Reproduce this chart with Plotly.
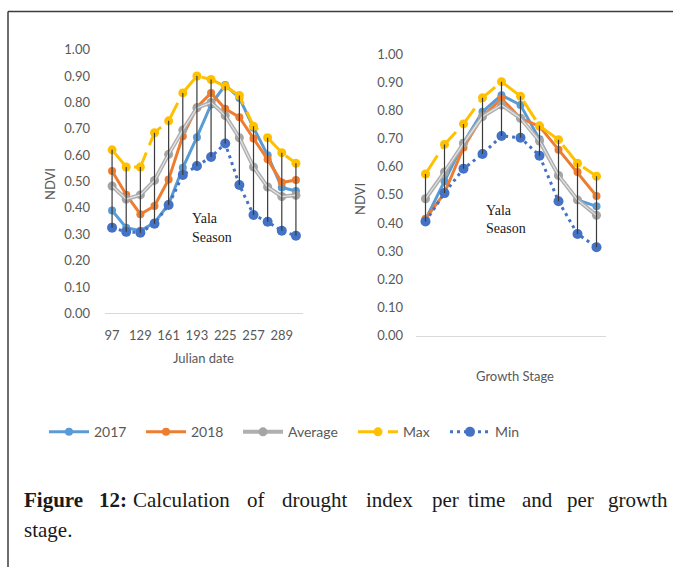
import plotly.graph_objects as go

W, H = 673, 575

# ---------------- data ----------------
julian_days = ["97", "113", "129", "145", "161", "177", "193", "209", "225", "241", "257", "273", "289", "305"]
julian_ticks = ["97", "129", "161", "193", "225", "257", "289"]

jd_2017 = [0.39, 0.325, 0.313, 0.344, 0.414, 0.552, 0.668, 0.792, 0.866, 0.817, 0.704, 0.600, 0.477, 0.464]
jd_2018 = [0.54, 0.450, 0.376, 0.407, 0.508, 0.672, 0.782, 0.836, 0.776, 0.744, 0.663, 0.584, 0.496, 0.506]
jd_avg = [0.483, 0.433, 0.449, 0.504, 0.603, 0.695, 0.779, 0.800, 0.750, 0.666, 0.555, 0.479, 0.443, 0.448]
jd_max = [0.620, 0.555, 0.555, 0.685, 0.730, 0.836, 0.900, 0.887, 0.861, 0.826, 0.710, 0.666, 0.609, 0.569]
jd_min = [0.325, 0.309, 0.306, 0.340, 0.411, 0.525, 0.559, 0.593, 0.644, 0.487, 0.373, 0.347, 0.313, 0.294]

stages = ["1", "2", "3", "4", "5", "6", "7", "8", "9", "10"]
gs_2017 = [0.412, 0.548, 0.685, 0.795, 0.854, 0.819, 0.697, 0.569, 0.482, 0.459]
gs_2018 = [0.415, 0.506, 0.668, 0.778, 0.842, 0.772, 0.743, 0.660, 0.581, 0.496]
gs_avg = [0.486, 0.581, 0.683, 0.778, 0.819, 0.772, 0.691, 0.569, 0.482, 0.427]
gs_max = [0.574, 0.679, 0.752, 0.845, 0.902, 0.850, 0.745, 0.696, 0.612, 0.566]
gs_min = [0.405, 0.506, 0.593, 0.645, 0.709, 0.703, 0.639, 0.477, 0.361, 0.314]

y_ticks = [0.0, 0.1, 0.2, 0.3, 0.4, 0.5, 0.6, 0.7, 0.8, 0.9, 1.0]

series_names = ["2017", "2018", "Average", "Max", "Min"]
colors = {"2017": "#5B9BD5", "2018": "#ED7D31", "Average": "#A5A5A5", "Max": "#FFC000", "Min": "#4472C4"}

TICK_FONT = dict(family="Lato, Open Sans, sans-serif", size=13, color="#595959")


def px_x(p):
    return p / W


def px_y(p):
    # target pixel row in the photographed page -> paper fraction
    p = (p - 6.5) / 0.975
    return 1 - p / H


fig = go.Figure()


def add_panel(cats, s2017, s2018, savg, smax, smin, xa, ya, show_legend):
    data = {"2017": s2017, "2018": s2018, "Average": savg, "Max": smax, "Min": smin}
    legend_ids = {"2017": "legend", "2018": "legend2", "Average": "legend3", "Max": "legend4", "Min": "legend5"}
    for name in series_names:
        vals = data[name]
        line = dict(color=colors[name], width=3)
        marker = dict(color=colors[name], size=8, symbol="circle")
        if name == "Average":
            line = dict(color="#AFAFAF", width=4)
            marker = dict(color="#A5A5A5", size=9)
        if name == "Max":
            line = dict(color=colors[name], width=3, dash="22px,8px")
            marker = dict(color=colors[name], size=9)
        if name == "Min":
            line = dict(color=colors[name], width=3, dash="3px,4px")
            marker = dict(color=colors[name], size=10)
        fig.add_trace(go.Scatter(
            x=cats, y=vals, name=name, mode="lines+markers",
            line=line, marker=marker, xaxis=xa, yaxis=ya,
            showlegend=show_legend, legend=legend_ids[name],
        ))
        if name == "Average":
            # light inner stroke of the compound gray line
            fig.add_trace(go.Scatter(
                x=cats, y=vals, mode="lines", line=dict(color="#E4E4E4", width=1.2),
                xaxis=xa, yaxis=ya, showlegend=False, hoverinfo="skip",
            ))
    # high-low lines
    hx, hy = [], []
    for c, lo, hi in zip(cats, smin, smax):
        hx += [c, c, None]
        hy += [lo, hi, None]
    fig.add_trace(go.Scatter(
        x=hx, y=hy, mode="lines", line=dict(color="#3A3A3A", width=1.2),
        xaxis=xa, yaxis=ya, showlegend=False, hoverinfo="skip",
    ))


add_panel(julian_days, jd_2017, jd_2018, jd_avg, jd_max, jd_min, "x", "y", True)
add_panel(stages, gs_2017, gs_2018, gs_avg, gs_max, gs_min, "x2", "y2", False)

axis_common_y = dict(range=[0, 1], tickvals=y_ticks, tickformat=".2f", showgrid=False,
                     zeroline=False, showline=False, ticks="", tickfont=TICK_FONT)

fig.update_layout(
    width=W, height=H,
    margin=dict(l=0, r=0, t=0, b=0),
    paper_bgcolor="white", plot_bgcolor="white",
    xaxis=dict(domain=[px_x(105), px_x(303)], type="category", categoryorder="array",
               categoryarray=julian_days, range=[-0.5, len(julian_days) - 0.5],
               tickvals=julian_ticks, showgrid=False, zeroline=False, showline=True,
               linecolor="#D9D9D9", linewidth=1, ticks="", tickfont=TICK_FONT,
               ticklabelstandoff=10, anchor="y"),
    yaxis=dict(domain=[px_y(312.7), px_y(48.3)], anchor="x", ticklabelstandoff=14, **axis_common_y),
    xaxis2=dict(domain=[px_x(416), px_x(606)], type="category", categoryorder="array",
                categoryarray=stages, range=[-0.5, len(stages) - 0.5],
                showticklabels=False, showgrid=False, zeroline=False, showline=True,
                linecolor="#D9D9D9", linewidth=1, ticks="", anchor="y2"),
    yaxis2=dict(domain=[px_y(335), px_y(52.7)], anchor="x2", ticklabelstandoff=12, **axis_common_y),
)

# one legend per series so each entry sits where the reference has it
legend_x = {"legend": 44, "legend2": 141, "legend3": 238, "legend4": 353, "legend5": 445}
LEG_FONT = dict(family="Lato, Open Sans, sans-serif", size=14, color="#595959")
for lid, xp in legend_x.items():
    fig.update_layout({lid: dict(x=px_x(xp), y=px_y(432), xanchor="left", yanchor="middle",
                                 orientation="h", font=LEG_FONT, bgcolor="rgba(0,0,0,0)",
                                 itemwidth=40)})

ann = []
TITLE_FONT = dict(family="Lato, Open Sans, sans-serif", size=13, color="#595959")


def add_text(text, xp, yp, font, xanchor="center", angle=0):
    ann.append(dict(text=text, x=px_x(xp), y=px_y(yp), xref="paper", yref="paper",
                    xanchor=xanchor, yanchor="middle", showarrow=False, textangle=angle,
                    font=font))


add_text("Julian date", 203, 358, TITLE_FONT)
add_text("Growth Stage", 515, 376, TITLE_FONT)
add_text("NDVI", 50, 183, TITLE_FONT, angle=-90)
add_text("NDVI", 360, 198, TITLE_FONT, angle=-90)

SERIF_SMALL = dict(family="Liberation Serif, serif", size=14, color="#1a1a1a")
for txt, xp, yp in [("Yala", 190, 218), ("Season", 190, 237), ("Yala", 484, 210), ("Season", 484, 228)]:
    add_text(txt, xp, yp, SERIF_SMALL, xanchor="left")

# caption (justified first line laid out word by word)
CAP_FONT = dict(family="Liberation Serif, serif", size=21, color="#1a1a1a")
cap_words = [("<b>Figure</b>", 22), ("<b>12:</b>", 97), ("Calculation", 131), ("of", 245),
             ("drought", 280), ("index", 364), ("per", 430), ("time", 466), ("and", 520),
             ("per", 565), ("growth", 606)]
for w, xp in cap_words:
    add_text(w, xp, 500, CAP_FONT, xanchor="left")
add_text("stage.", 22, 530, CAP_FONT, xanchor="left")
fig.update_layout(annotations=ann)

# frame (top and left edges visible)
fig.add_shape(type="line", xref="paper", yref="paper", x0=px_x(8), x1=1.0, y0=px_y(10), y1=px_y(10),
              line=dict(color="#3C3C3C", width=1.5))
fig.add_shape(type="line", xref="paper", yref="paper", x0=px_x(8), x1=px_x(8), y0=0, y1=px_y(10),
              line=dict(color="#3C3C3C", width=1.5))

css = ("var s='margin:0;padding:0;overflow:hidden;width:673px;height:575px;';"
       "document.documentElement.style.cssText=s;document.body.style.cssText=s;")
fig.write_html("out.html", post_script=css, config={"displayModeBar": False})
